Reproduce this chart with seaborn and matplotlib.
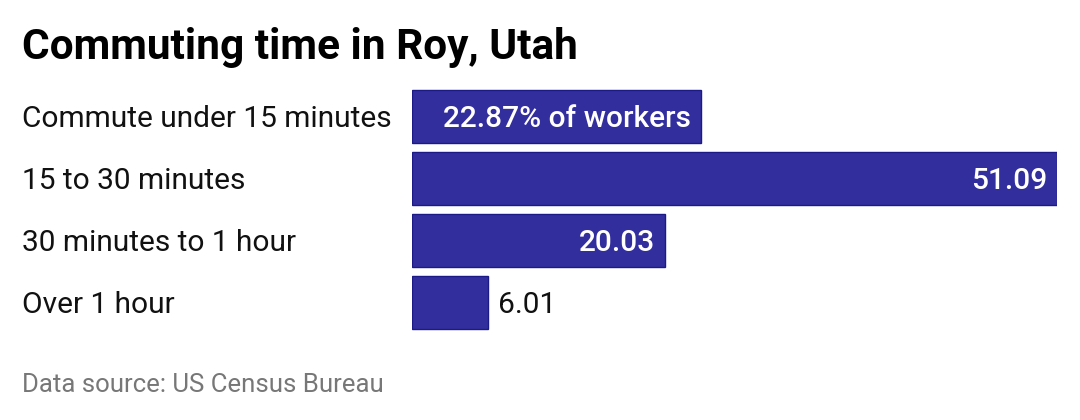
import matplotlib
matplotlib.use("Agg")
import matplotlib.pyplot as plt
import seaborn as sns
import pandas as pd

categories = ["Commute under 15 minutes", "15 to 30 minutes", "30 minutes to 1 hour", "Over 1 hour"]
values = [22.87, 51.09, 20.03, 6.01]
value_labels = ["22.87% of workers", "51.09", "20.03", "6.01"]
title = "Commuting time in Roy, Utah"
source = "Data source: US Census Bureau"

sns.set_theme(style="white")
plt.rcParams["font.family"] = ["Roboto", "DejaVu Sans"]

W, H = 1080, 420
fig = plt.figure(figsize=(W / 100, H / 100), dpi=100)
ax = fig.add_axes([412 / W, 1 - 333.5 / H, 645 / W, 248 / H])

df = pd.DataFrame({"category": categories, "value": values})
sns.barplot(data=df, x="value", y="category", orient="h", color="#332e9e",
            edgecolor="#1c1a86", linewidth=1.0, width=53 / 62, saturation=1, ax=ax)
ax.set_xlim(0, max(values))
ax.set_ylim(3.5, -0.5)
ax.set_xlabel("")
ax.set_ylabel("")
ax.set_xticks([])
ax.set_yticks([])
for s in ax.spines.values():
    s.set_visible(False)

for i, (v, lab) in enumerate(zip(values, value_labels)):
    if v > 10:
        ax.annotate(lab, xy=(v, i), xytext=(-7, -1.5), textcoords="offset points",
                    ha="right", va="center", color="white", fontsize=21.5,
                    fontweight="medium")
    else:
        ax.annotate(lab, xy=(v, i), xytext=(7, -1.5), textcoords="offset points",
                    ha="left", va="center", color="#111111", fontsize=21.5)

for i, c in enumerate(categories):
    y = (119 + 62 * i)
    fig.text(22 / W, 1 - y / H, c, ha="left", va="center", fontsize=21.5, color="#111111")

fig.text(22 / W, 1 - 48 / H, title, ha="left", va="center", fontsize=30.5,
         fontweight="bold", color="#000000")
fig.text(22 / W, 1 - 385 / H, source, ha="left", va="center", fontsize=18.5, color="#777777")

fig.savefig("out.png", dpi=100, facecolor="white")
